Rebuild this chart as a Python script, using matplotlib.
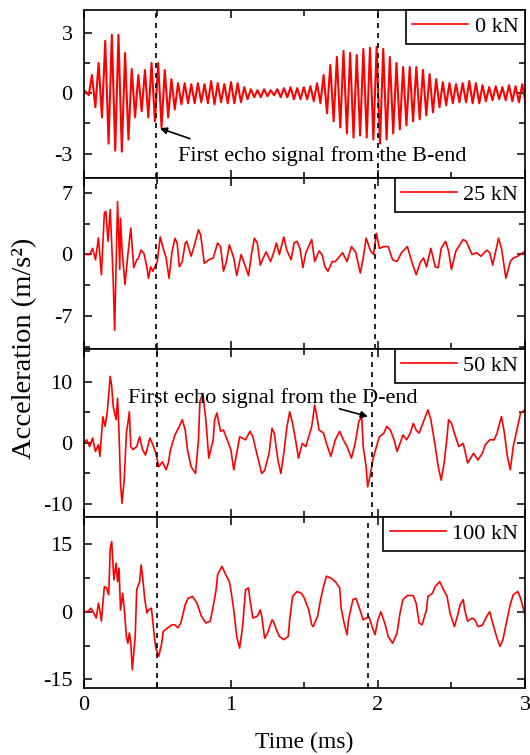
import numpy as np
import matplotlib
matplotlib.use('Agg')
import matplotlib.pyplot as plt
from matplotlib.ticker import MultipleLocator

plt.rcParams['font.family'] = ['Liberation Serif', 'DejaVu Serif']
plt.rcParams['axes.unicode_minus'] = False

# 0 kN: half-cycle extremes of the dense burst signal (one up + one down per 0.045 ms cycle)
up_0kN = [0.1, 0.9, 1.5, 2.6, 2.9, 2.9, 2.0, 1.2, 0.9, 1.15,
          1.5, 1.5, 1.15, 0.7, 0.5, 0.5, 0.45, 0.5, 0.45, 0.6,
          0.5, 0.45, 0.55, 0.5, 0.3, 0.2, 0.15, 0.2, 0.15, 0.2,
          0.25, 0.3, 0.25, 0.3, 0.35, 0.5, 0.9, 1.4, 1.8, 2.1,
          2.0, 1.9, 2.2, 2.25, 2.3, 2.2, 1.8, 1.5, 1.3, 1.3,
          1.3, 1.15, 0.95, 0.7, 0.55, 0.5, 0.45, 0.5, 0.6, 0.5,
          0.4, 0.3, 0.35, 0.3, 0.4, 0.35, 0.45]
down_0kN = [-0.1, -0.7, -1.2, -2.5, -2.85, -2.9, -2.3, -1.2, -0.9, -1.2,
            -1.4, -1.7, -1.2, -0.8, -0.55, -0.5, -0.5, -0.45, -0.5, -0.55,
            -0.45, -0.5, -0.5, -0.45, -0.3, -0.2, -0.2, -0.15, -0.1, -0.2,
            -0.2, -0.3, -0.3, -0.3, -0.4, -0.5, -1.0, -1.4, -1.7, -2.0,
            -2.2, -2.1, -2.2, -2.3, -2.5, -2.3, -2.0, -1.8, -1.6, -1.4,
            -1.3, -1.1, -0.95, -0.7, -0.6, -0.5, -0.45, -0.45, -0.5, -0.5,
            -0.4, -0.35, -0.3, -0.35, -0.4, -0.45, -0.5]

# 25 kN
t_25kN = [0, 0.04, 0.06, 0.08, 0.10, 0.12, 0.14, 0.15, 0.165, 0.18, 0.20, 0.21, 0.23, 0.245,
          0.25, 0.26, 0.28, 0.30, 0.32, 0.34, 0.36, 0.37, 0.39, 0.41, 0.43, 0.44, 0.455, 0.47,
          0.50, 0.52, 0.54, 0.56, 0.58, 0.60, 0.62, 0.635, 0.65, 0.67, 0.69, 0.70, 0.73, 0.75,
          0.78, 0.795, 0.81, 0.82, 0.85, 0.88, 0.91, 0.93, 0.95, 0.97, 0.99, 1.02, 1.04, 1.07,
          1.10, 1.12, 1.14, 1.16, 1.18, 1.20, 1.22, 1.24, 1.27, 1.29, 1.31, 1.33, 1.36, 1.38,
          1.41, 1.43, 1.45, 1.47, 1.49, 1.51, 1.55, 1.57, 1.60, 1.62, 1.64, 1.66, 1.69, 1.71,
          1.74, 1.76, 1.79, 1.82, 1.85, 1.88, 1.90, 1.92, 1.95, 1.97, 1.99, 2.01, 2.04, 2.07,
          2.10, 2.13, 2.16, 2.20, 2.23, 2.26, 2.29, 2.31, 2.33, 2.36, 2.39, 2.41, 2.43, 2.46,
          2.48, 2.50, 2.53, 2.58, 2.60, 2.64, 2.67, 2.70, 2.74, 2.76, 2.78, 2.82, 2.84, 2.87,
          2.90, 2.92, 2.95, 3.0]
a_25kN = [0, 0, 0.7, -0.6, 1.9, -2.3, 4.7, 4.9, 1.5, 5.1, -2.7, -8.6, 6.0, -1.7,
          4.1, 0.7, -3.4, 0, 3.0, -1.5, -0.6, -0.5, 0.5, 0.1, -1.5, -2.7, -1.4, -1.9,
          -0.8, 2.0, 0.7, -0.4, -2.7, 0.3, 1.85, 1.3, -1.4, -0.8, 1.3, 1.5, -0.2, 0.9,
          2.8, 2.2, 0.3, -1.0, -0.6, -0.4, 1.3, 0.9, -1.9, -0.8, 1.1, -0.4, -2.4, 0,
          -1.4, -2.4, 0, 1.85, 1.3, -1.2, -0.4, 0.3, -0.8, 0.15, 1.3, 0, 2.0, 0.5,
          -0.6, 1.3, 1.5, 0.7, -1.5, 0.2, 1.7, -0.8, 0.4, 0, -1.4, -1.9, -0.8, -0.8,
          -0.2, 0.2, -0.8, 0.9, 0.2, -2.1, -0.4, 1.85, 0.4, 0, 2.4, 0.7, 0.9, 0.9,
          -0.6, -0.8, 0.2, 0.9, -0.8, -2.3, -0.8, -0.4, -1.4, 0.7, -1.4, -1.5, 0.7, 1.5,
          0.4, -1.7, 0.4, 1.7, 1.5, 0, 0.2, -0.2, 0.5, 0.2, -1.2, 1.85, 0.7, -2.7,
          -0.8, -0.4, -0.2, 0.35]

# 50 kN
t_50kN = [0, 0.02, 0.04, 0.06, 0.08, 0.10, 0.11, 0.13, 0.145, 0.16, 0.18, 0.19, 0.20, 0.22,
          0.23, 0.24, 0.25, 0.26, 0.275, 0.29, 0.30, 0.31, 0.32, 0.335, 0.36, 0.38, 0.40, 0.42,
          0.44, 0.45, 0.47, 0.49, 0.51, 0.535, 0.56, 0.575, 0.59, 0.62, 0.65, 0.67, 0.69, 0.705,
          0.73, 0.76, 0.78, 0.79, 0.81, 0.83, 0.85, 0.88, 0.89, 0.905, 0.93, 0.95, 0.975, 1.00,
          1.02, 1.04, 1.06, 1.10, 1.13, 1.15, 1.17, 1.21, 1.23, 1.26, 1.28, 1.295, 1.32, 1.34,
          1.36, 1.38, 1.40, 1.42, 1.44, 1.46, 1.485, 1.51, 1.55, 1.57, 1.585, 1.60, 1.63, 1.65,
          1.68, 1.71, 1.74, 1.765, 1.79, 1.82, 1.845, 1.87, 1.89, 1.90, 1.92, 1.93, 1.95, 1.965,
          1.99, 2.01, 2.04, 2.06, 2.085, 2.11, 2.13, 2.15, 2.17, 2.195, 2.22, 2.24, 2.26, 2.28,
          2.31, 2.34, 2.36, 2.39, 2.41, 2.43, 2.45, 2.47, 2.48, 2.50, 2.52, 2.55, 2.58, 2.61,
          2.65, 2.68, 2.71, 2.73, 2.76, 2.79, 2.81, 2.83, 2.84, 2.86, 2.88, 2.90, 2.92, 2.94,
          2.97, 3.0]
a_50kN = [0, 0.5, -0.6, 0.8, -1.4, -0.3, -2.2, 4.3, 2.7, 5.1, 10.9, 9.3, 6.0, 3.8,
          7.3, 1.6, -6.6, -9.9, -6.1, 1.6, 3.2, 5.1, -0.6, -1.1, -0.6, 1.0, -1.1, -2.0,
          -0.1, 0.8, -0.3, -1.7, -3.9, -3.1, -4.4, -3.3, -1.1, 1.3, 2.7, 3.8, 2.1, -1.1,
          -3.9, -5.0, 0.5, 6.8, 8.1, 3.8, -2.5, 0.5, 3.8, 4.9, 1.9, 2.1, 0.5, -1.1,
          -4.4, -1.7, 1.0, 0.5, 1.9, 1.0, -1.1, -5.0, -4.5, -1.7, 2.4, 1.6, -2.8, -5.0,
          -1.7, 2.4, 5.1, 3.2, 0.5, -2.5, -0.1, -0.6, 2.7, 6.2, 4.3, 2.1, 1.6, -0.1,
          -2.2, 0.5, 1.9, 0.5, -0.6, -2.5, -0.1, 3.5, 4.3, -0.6, -3.9, -7.2, -5.0, -2.8,
          -0.6, 1.0, 1.6, 2.7, 2.1, 0.5, -1.4, -0.1, 1.3, 0.5, 1.6, 3.2, 2.1, 1.6,
          3.5, 5.4, 3.8, -0.6, -3.9, -6.1, -3.3, 1.0, 3.8, 3.2, 1.6, -0.6, -0.1, -3.3,
          -1.7, -2.8, -1.7, -0.3, 0.5, 0.5, 1.6, 3.5, 4.3, 1.6, -2.2, -4.4, -0.6, 1.6,
          4.9, 5.4]

# 100 kN
t_100kN = [0, 0.03, 0.05, 0.07, 0.085, 0.10, 0.11, 0.12, 0.14, 0.155, 0.17, 0.18, 0.19, 0.205,
           0.22, 0.23, 0.24, 0.25, 0.265, 0.275, 0.29, 0.30, 0.31, 0.32, 0.33, 0.35, 0.36, 0.38,
           0.39, 0.40, 0.415, 0.43, 0.44, 0.46, 0.48, 0.49, 0.51, 0.53, 0.54, 0.57, 0.60, 0.62,
           0.64, 0.66, 0.69, 0.71, 0.74, 0.77, 0.80, 0.83, 0.86, 0.88, 0.90, 0.91, 0.94, 0.96,
           0.99, 1.00, 1.02, 1.04, 1.06, 1.08, 1.10, 1.12, 1.13, 1.15, 1.18, 1.20, 1.21, 1.23,
           1.25, 1.28, 1.29, 1.31, 1.33, 1.36, 1.39, 1.40, 1.42, 1.45, 1.48, 1.50, 1.53, 1.55,
           1.56, 1.59, 1.61, 1.63, 1.65, 1.68, 1.71, 1.74, 1.75, 1.77, 1.79, 1.80, 1.83, 1.85,
           1.87, 1.90, 1.92, 1.94, 1.96, 1.98, 2.00, 2.02, 2.05, 2.07, 2.10, 2.13, 2.15, 2.17,
           2.20, 2.24, 2.26, 2.28, 2.30, 2.33, 2.34, 2.37, 2.39, 2.42, 2.44, 2.47, 2.49, 2.52,
           2.54, 2.56, 2.58, 2.59, 2.61, 2.64, 2.66, 2.68, 2.71, 2.74, 2.76, 2.78, 2.81, 2.83,
           2.85, 2.88, 2.90, 2.92, 2.95, 2.97, 2.99, 3.0]
a_100kN = [0, 0.1, 0.8, -0.4, -1.4, 1.9, 0.2, -2.1, 5.6, 5.3, 3.8, 14.1, 15.6, 7.1,
           10.8, 6.7, 9.7, 0.4, 4.1, 0.8, -5.5, -7.0, -4.7, -7.0, -12.9, -5.5, 4.9, 6.7,
           10.4, 7.9, 2.7, -0.3, 0.4, 0.8, -5.5, -8.1, -9.9, -7.0, -4.4, -3.6, -2.9, -2.9,
           -3.6, -2.5, 1.6, 3.0, 3.4, 1.9, -1.0, -2.5, -2.1, 1.2, 4.9, 8.2, 10.1, 8.6,
           6.7, 4.9, 0.4, -5.5, -8.1, -3.3, 4.9, 5.3, 2.7, -1.4, -1.0, 0.4, -1.0, -5.9,
           -4.7, -1.8, -2.2, -4.0, -5.5, -6.2, -5.5, -1.8, 3.4, 4.5, 4.1, 3.0, 0.4, -2.9,
           -3.3, -1.0, 2.7, 5.6, 7.9, 7.5, 6.7, 5.3, 0.8, -2.5, -5.1, -1.8, 2.7, 3.0,
           1.2, -1.8, -1.4, -1.2, -3.3, -5.1, -1.8, 0, -2.9, -5.5, -7.0, -4.7, -0.3, 2.7,
           3.6, 3.6, 1.9, -2.5, -2.9, 0.4, 3.4, 4.1, 5.6, 6.7, 5.3, 3.4, -0.3, -3.3,
           -1.0, 1.6, 2.7, 0.4, -2.1, -1.4, -1.8, -3.3, -3.0, -1.0, 0, -2.5, -5.9, -7.7,
           -6.2, -1.4, 1.6, 3.8, 4.5, 3.0, 0.4, -0.8]

# echo marker times (ms) per panel
echo_marks = [[0.494, 2.0], [0.494, 1.98], [0.50, 1.96], [0.50, 1.93]]
labels = ['0 kN', '25 kN', '50 kN', '100 kN']

# build the 0 kN zigzag from the read extremes
cyc = np.arange(len(up_0kN)) * 0.045
t_0kN = np.concatenate([[0.0], np.ravel(np.column_stack([cyc + 0.011, cyc + 0.034]))])
a_0kN = np.concatenate([[0.0], np.ravel(np.column_stack([up_0kN, down_0kN]))])

series = [(t_0kN, a_0kN), (t_25kN, a_25kN), (t_50kN, a_50kN), (t_100kN, a_100kN)]
ylims = [(-4.2, 4.14), (-10.7, 8.7), (-12.1, 15.4), (-16.9, 21.1)]
majors = [3, 7, 10, 15]
widths = [1.5, 1.2, 1.2, 1.2]

fig = plt.figure(figsize=(5.3, 7.55), dpi=100)
gs = fig.add_gridspec(4, 1, height_ratios=[168, 171, 168, 171], hspace=0,
                      left=0.158, right=0.9906, top=0.987, bottom=0.089)

axes = []
for i in range(4):
    ax = fig.add_subplot(gs[i])
    t, a = series[i]
    ax.plot(t, a, color='red', lw=widths[i], label=labels[i])
    for xm in echo_marks[i]:
        ax.axvline(xm, color='black', lw=1.2, ls=(0, (3, 3)))
    ax.set_xlim(0, 3)
    ax.set_ylim(*ylims[i])
    m = majors[i]
    ax.set_yticks([-m, 0, m])
    ax.yaxis.set_minor_locator(MultipleLocator(m / 2))
    ax.xaxis.set_major_locator(MultipleLocator(1))
    ax.xaxis.set_minor_locator(MultipleLocator(0.5))
    ax.tick_params(which='both', direction='in', top=True, right=True, labelsize=16, width=1.1)
    ax.tick_params(which='major', length=6)
    ax.tick_params(which='minor', length=4)
    ax.tick_params(axis='y', pad=8)
    ax.tick_params(axis='x', pad=6)
    for s in ax.spines.values():
        s.set_linewidth(1.2)
    if i < 3:
        ax.tick_params(labelbottom=False)
    leg = ax.legend(loc='upper right', borderaxespad=0, fancybox=False, fontsize=16,
                    handlelength=2.5, handletextpad=0.3, borderpad=0.3, framealpha=1)
    for h in leg.get_lines():
        h.set_linewidth(1.2)
    leg.get_frame().set_edgecolor('black')
    leg.get_frame().set_linewidth(1.2)
    axes.append(ax)

axes[3].set_xlabel('Time (ms)', fontsize=17, labelpad=12)
fig.text(0.047, 0.538, 'Acceleration (m/s²)', rotation=90, ha='center', va='center', fontsize=20.5)

axes[0].annotate('', xy=(0.50, -1.7), xytext=(0.74, -2.3),
                 arrowprops=dict(arrowstyle='-|>', color='black', lw=1.2, mutation_scale=10))
axes[0].text(0.64, -3.1, 'First echo signal from the B-end', fontsize=16, va='center')

axes[2].annotate('', xy=(1.95, 4.2), xytext=(1.72, 5.7),
                 arrowprops=dict(arrowstyle='-|>', color='black', lw=1.2, mutation_scale=10))
axes[2].text(0.30, 7.4, 'First echo signal from the D-end', fontsize=16, va='center')

fig.savefig('out.png', dpi=100)
